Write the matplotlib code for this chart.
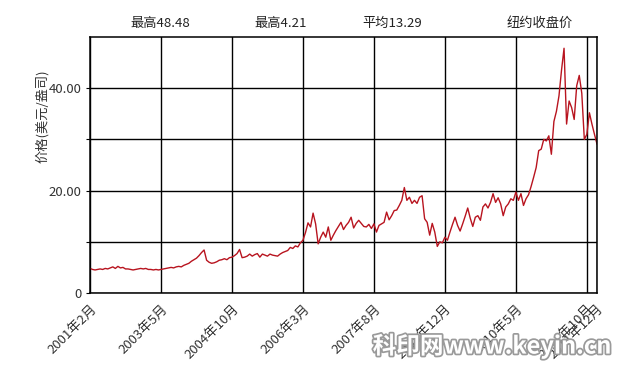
import matplotlib.pyplot as plt
import matplotlib.patheffects as pe

plt.rcParams['font.family'] = ['Noto Sans CJK SC', 'DejaVu Sans']

# Price series sampled on an even index (201 points across the plotted period)
prices = [
    4.8, 4.6, 4.5, 4.6, 4.7, 4.6, 4.8, 4.7, 4.9, 5.1,
    4.8, 5.2, 4.9, 5.0, 4.7, 4.7, 4.6, 4.5, 4.6, 4.7,
    4.8, 4.7, 4.8, 4.6, 4.6, 4.5, 4.6, 4.5, 4.6, 4.7,
    4.8, 4.9, 5.0, 4.9, 5.1, 5.2, 5.1, 5.4, 5.6, 5.8,
    6.2, 6.5, 6.8, 7.3, 7.9, 8.4, 6.4, 6.0, 5.8, 5.9,
    6.1, 6.4, 6.5, 6.7, 6.5, 6.9, 7.0, 7.3, 7.7, 8.5,
    6.9, 7.0, 7.2, 7.6, 7.2, 7.5, 7.7, 7.0, 7.6, 7.4,
    7.2, 7.6, 7.4, 7.3, 7.2, 7.6, 7.9, 8.1, 8.3, 8.9,
    8.7, 9.2, 9.0, 9.8, 10.3, 11.8, 13.7, 12.9, 15.6, 13.5,
    9.6, 10.9, 11.9, 10.9, 12.9, 10.3, 11.3, 12.2, 13.0, 13.8,
    12.4, 13.2, 13.8, 14.8, 12.7, 13.6, 14.2, 13.6, 13.0, 12.9,
    13.4, 12.6, 13.5, 11.9, 13.2, 13.5, 13.8, 15.8, 14.3, 15.1,
    16.1, 16.2, 17.1, 18.1, 20.6, 18.1, 18.7, 17.5, 18.1, 17.5,
    18.7, 19.0, 14.5, 13.8, 11.3, 13.6, 11.9, 9.1, 10.0, 9.8,
    10.9, 10.3, 11.9, 13.4, 14.8, 13.2, 12.1, 13.5, 15.0, 16.6,
    14.6, 13.0, 14.8, 15.1, 14.2, 16.8, 17.4, 16.6, 17.7, 19.4,
    17.7, 18.6, 17.4, 15.1, 16.8, 17.4, 18.4, 18.1, 19.7, 18.1,
    19.4, 17.1, 18.4, 19.2, 20.8, 22.6, 24.5, 27.8, 28.1, 30.0,
    29.7, 30.7, 27.1, 33.5, 35.5, 38.5, 43.5, 47.8, 33.0, 37.5,
    36.2, 33.9, 40.5, 42.5, 39.0, 30.0, 31.0, 35.2, 33.0, 31.0,
    29.1,
]

tick_pos = [0, 28, 56, 84, 112, 140, 168, 196, 200]
tick_labels = ["2001年2月", "2003年5月", "2004年10月", "2006年3月", "2007年8月",
               "2008年12月", "2010年5月", "2011年10月", "2011年12月"]

y_ticks = [0, 10, 20, 30, 40]
y_labels = ["0", "", "20.00", "", "40.00"]

header = ["最高48.48", "最高4.21", "平均13.29", "纽约收盘价"]
header_x = [160, 281, 392, 540]  # pixel centres across the top

fig = plt.figure(figsize=(6.29, 3.69), dpi=100)
ax = fig.add_axes([90 / 629, 1 - 293 / 369, 507 / 629, 256 / 369])

ax.plot(range(len(prices)), prices, color="#b8141f", linewidth=1.0)

ax.set_xlim(0, 200)
ax.set_ylim(0, 50)
ax.set_xticks(tick_pos)
ax.set_xticklabels(tick_labels, rotation=45, ha="right", va="top",
                   rotation_mode="anchor", fontsize=9.5, color="#333333")
ax.set_yticks(y_ticks)
ax.set_yticklabels(y_labels, fontsize=9.5, color="#333333")
ax.tick_params(axis="x", length=0, pad=7)
ax.tick_params(axis="y", length=3, pad=3)
ax.grid(True, color="black", linewidth=1.0)
ax.set_axisbelow(True)
for s in ax.spines.values():
    s.set_linewidth(1.1)

fig.text(42 / 629, 1 - 116 / 369, "价格(美元/盎司)", rotation=90,
         ha="center", va="center", fontsize=9.5, color="#333333")

for t, x in zip(header, header_x):
    fig.text(x / 629, 1 - 23 / 369, t, ha="center", va="center",
             fontsize=9.5, color="#222222")

# watermark
fig.text(492 / 629, 1 - 346 / 369, "科印网www.keyin.cn", ha="center", va="center",
         fontsize=17, fontweight="bold", color="white",
         path_effects=[pe.withStroke(linewidth=2.5, foreground="#9a9a9a")])

fig.savefig("out.png", dpi=100)
